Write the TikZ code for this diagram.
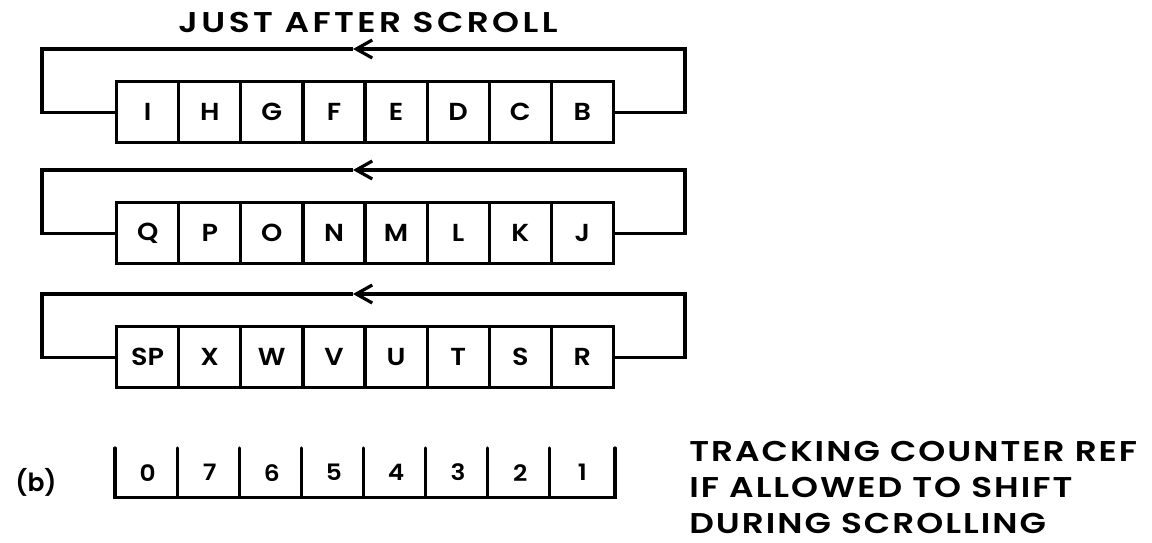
\documentclass[tikz,border=0pt]{standalone}
\usepackage{fontspec}
\setmainfont{Poppins}[BoldFont={Poppins SemiBold}]
\usetikzlibrary{arrows.meta}
\begin{document}
\begin{tikzpicture}[x=0.5pt,y=-0.5pt, line width=1.6pt,
  cell/.style={draw, minimum width=31.05pt, minimum height=30.5pt, inner sep=0pt,
    anchor=north west, font=\bfseries\fontsize{12.3}{13}\selectfont\addfontfeature{FakeStretch=1.1}},
  dcell/.style={minimum width=31.05pt, minimum height=23pt, inner sep=0pt,
    anchor=north west, font=\bfseries\fontsize{11.3}{12}\selectfont\addfontfeature{FakeStretch=1.1}},
  titletext/.style={font=\bfseries\fontsize{14.3}{17.5}\selectfont\addfontfeature{FakeStretch=1.2,LetterSpace=12}},
  notetext/.style={font=\bfseries\fontsize{14.3}{18}\selectfont\addfontfeature{FakeStretch=1.2,LetterSpace=7}},
  looparrow/.style={-{Straight Barb[length=8pt,width=9pt]}}]
\useasboundingbox (0,0) rectangle (1152,542);
\node[titletext] (title) at (368,22) {JUST AFTER SCROLL};
\foreach \r/\yy/\L in {a/80/{I,H,G,F,E,D,C,B}, b/201/{Q,P,O,N,M,L,K,J}, c/325/{SP,X,W,V,U,T,S,R}} {
  \foreach \t [count=\i from 0] in \L {
    \node[cell] (\r\i) at ({115+62.1*\i},\yy) {\t};
  }
  \coordinate (\r top) at (353,\yy-31);
  \draw[looparrow] (\r7.east) -- ++(70,0) |- (\r top);
  \draw (\r top) -| ([xshift=-36.5pt]\r0.west) -- (\r0.west);
}
\foreach \t [count=\i from 0] in {0,7,6,5,4,3,2,1} {
  \node[dcell] (d\i) at ({115+62.1*\i},448) {\t};
}
\draw[line cap=round, line join=miter] (d0.north west) -- (d0.south west) -- (d7.south east) -- (d7.north east);
\foreach \i in {1,...,7} { \draw[line cap=round] (d\i.north west) -- (d\i.south west); }
\node[font=\bfseries\fontsize{12.5}{15}\selectfont] (blabel) at (36,482) {(b)};
\node[notetext, anchor=west, align=left] (note) at (681,487) {TRACKING COUNTER REF\\IF ALLOWED TO SHIFT\\DURING SCROLLING};
\end{tikzpicture}
\end{document}
